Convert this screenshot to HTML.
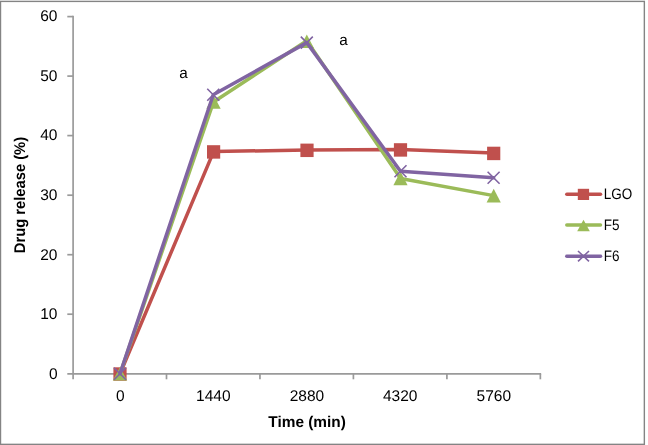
<!DOCTYPE html>
<html>
<head>
<meta charset="utf-8">
<title>Drug release chart</title>
<style>
  html, body { margin: 0; padding: 0; background: #ffffff; }
  body { width: 648px; height: 445px; overflow: hidden; }
  svg { display: block; }
  svg { text-rendering: geometricPrecision; will-change: transform; }
  text { font-family: "Liberation Sans", sans-serif; fill: #000000; }
  .num { font-size: 15.5px; }
  .bold { font-size: 15.5px; font-weight: bold; }
  .leg { font-size: 15.1px; }
  .ann { font-size: 15.3px; }
</style>
</head>
<body>
<svg width="648" height="445" viewBox="0 0 648 445">
  <rect x="0" y="0" width="648" height="445" fill="#ffffff"/>

  <!-- outer chart border -->
  <rect x="0.5" y="1.4" width="643.85" height="442.95" fill="none" stroke="#848484" stroke-width="1.4"/>

  <!-- axes -->
  <g fill="none" stroke="#9a9a9a" stroke-width="1.7">
    <line x1="73.10" y1="15.75" x2="73.10" y2="379.3"/>
    <line x1="67.3" y1="373.95" x2="541.15" y2="373.95"/>
    <!-- y ticks -->
    <line x1="67.3" y1="16.60" x2="73.10" y2="16.60"/>
    <line x1="67.3" y1="76.10" x2="73.10" y2="76.10"/>
    <line x1="67.3" y1="135.60" x2="73.10" y2="135.60"/>
    <line x1="67.3" y1="195.20" x2="73.10" y2="195.20"/>
    <line x1="67.3" y1="254.70" x2="73.10" y2="254.70"/>
    <line x1="67.3" y1="314.20" x2="73.10" y2="314.20"/>
    <!-- x ticks -->
    <line x1="166.50" y1="373.95" x2="166.50" y2="379.3"/>
    <line x1="259.95" y1="373.95" x2="259.95" y2="379.3"/>
    <line x1="353.40" y1="373.95" x2="353.40" y2="379.3"/>
    <line x1="446.90" y1="373.95" x2="446.90" y2="379.3"/>
    <line x1="540.35" y1="373.95" x2="540.35" y2="379.3"/>
  </g>

  <!-- y labels -->
  <g class="num" text-anchor="end">
    <text x="57.5" y="21.2">60</text>
    <text x="57.5" y="81.0">50</text>
    <text x="57.5" y="140.2">40</text>
    <text x="57.5" y="200.2">30</text>
    <text x="57.5" y="260.0">20</text>
    <text x="57.5" y="318.95">10</text>
    <text x="57.5" y="379.3">0</text>
  </g>

  <!-- x labels -->
  <g class="num" text-anchor="middle">
    <text x="120.2" y="401">0</text>
    <text x="213.3" y="401">1440</text>
    <text x="306.9" y="401">2880</text>
    <text x="400.2" y="401">4320</text>
    <text x="493.8" y="401">5760</text>
  </g>

  <!-- axis titles -->
  <text class="bold" text-anchor="middle" transform="translate(307.1 426.8) scale(0.992 1)">Time (min)</text>
  <text class="bold" text-anchor="middle" transform="translate(25.2 195.05) rotate(-90) scale(0.951 1)">Drug release (%)</text>

  <!-- annotations -->
  <text class="ann" text-anchor="middle" x="183.5" y="78.3">a</text>
  <text class="ann" text-anchor="middle" x="343.4" y="45.0">a</text>

  <!-- LGO series -->
  <g>
    <polyline fill="none" stroke="#C0504D" stroke-width="3.5" stroke-linejoin="round" stroke-linecap="round"
      points="120,373.7 213.6,151.6 307,150 400.5,149.6 493.75,153.1"/>
    <g fill="#C0504D">
      <rect x="113.4" y="367.3" width="13.2" height="13.45"/>
      <rect x="207.0" y="145.2" width="13.2" height="13.45"/>
      <rect x="300.4" y="143.6" width="13.2" height="13.45"/>
      <rect x="393.9" y="143.2" width="13.2" height="13.45"/>
      <rect x="487.1" y="146.7" width="13.2" height="13.45"/>
    </g>
  </g>

  <!-- F5 series -->
  <g>
    <polyline fill="none" stroke="#9BBB59" stroke-width="3.5" stroke-linejoin="round" stroke-linecap="round"
      points="120.0,373.8 213.5,102.0 306.8,40.8 400.6,178.5 493.7,195.6"/>
    <g fill="#9BBB59">
      <path d="M120.0 366.90 L127.2 380.60 L112.8 380.60 Z"/>
      <path d="M213.5 95.10 L220.7 108.80 L206.3 108.80 Z"/>
      <path d="M306.8 34.40 L313.9 48.10 L299.7 48.10 Z"/>
      <path d="M400.5 171.60 L407.6 185.30 L393.4 185.30 Z"/>
      <path d="M493.7 188.70 L500.8 202.40 L486.6 202.40 Z"/>
    </g>
  </g>

  <!-- F6 series -->
  <g>
    <polyline fill="none" stroke="#8064A2" stroke-width="3.5" stroke-linejoin="round" stroke-linecap="round"
      points="120,373.7 213.25,94.7 306.8,42.6 400.5,171.3 493.6,177.8"/>
    <g fill="none" stroke="#8064A2" stroke-width="1.6">
      <path d="M114 367.7 L126 379.7 M126 367.7 L114 379.7"/>
      <path d="M207.25 88.7 L219.25 100.7 M219.25 88.7 L207.25 100.7"/>
      <path d="M300.8 36.6 L312.8 48.6 M312.8 36.6 L300.8 48.6"/>
      <path d="M394.5 165.3 L406.5 177.3 M406.5 165.3 L394.5 177.3"/>
      <path d="M487.6 171.8 L499.6 183.8 M499.6 171.8 L487.6 183.8"/>
    </g>
  </g>

  <!-- legend -->
  <g>
    <line x1="566.8" y1="194.25" x2="600.5" y2="194.25" stroke="#C0504D" stroke-width="3.5" stroke-linecap="round"/>
    <rect x="577.8" y="188.8" width="11.3" height="11.2" fill="#C0504D"/>
    <text class="leg" transform="translate(603.8 199.4) scale(0.895 1)">LGO</text>

    <line x1="566.8" y1="225.1" x2="600.5" y2="225.1" stroke="#9BBB59" stroke-width="3.5" stroke-linecap="round"/>
    <path d="M583.5 219.8 L589.8 231.3 L577.2 231.3 Z" fill="#9BBB59"/>
    <text class="leg" transform="translate(603.7 230.2) scale(0.895 1)">F5</text>

    <line x1="566.8" y1="256.3" x2="600.5" y2="256.3" stroke="#8064A2" stroke-width="3.5" stroke-linecap="round"/>
    <path d="M578 251 L589 261.4 M589 251 L578 261.4" fill="none" stroke="#8064A2" stroke-width="1.6"/>
    <text class="leg" transform="translate(603.7 261.1) scale(0.895 1)">F6</text>
  </g>
</svg>
</body>
</html>
